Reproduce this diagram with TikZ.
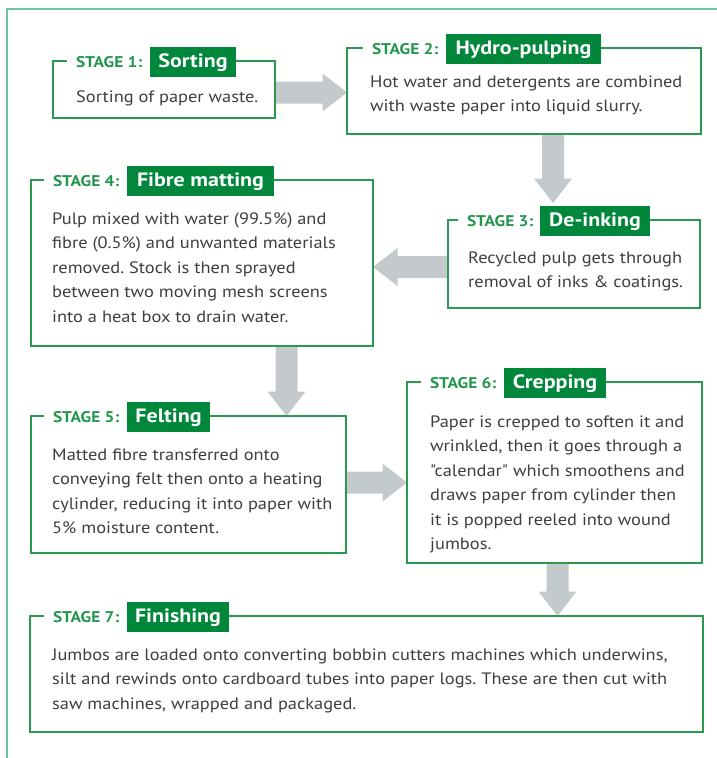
\documentclass[tikz,border=0pt]{standalone}
\usepackage{fontspec}
\setmainfont{PT Sans}
\newfontfamily\bodyfont[FakeStretch=1.115]{PT Sans}
\newfontfamily\stagefont[FakeStretch=1.12]{PT Sans}
\newfontfamily\titlefont[FakeStretch=1.14]{PT Sans}
\usetikzlibrary{calc,fit,backgrounds}
\frenchspacing
\definecolor{framegreen}{HTML}{6CC79A}
\definecolor{edgegreen}{HTML}{2A9A50}
\definecolor{fillgreen}{HTML}{00873C}
\definecolor{stagegreen}{HTML}{23964E}
\definecolor{arrowgray}{HTML}{C4C9CB}
\definecolor{bodygray}{HTML}{3E3E3E}
\tikzset{
  boxarea/.style={inner sep=0pt, outer sep=0pt},
  edge/.style={draw=edgegreen, line width=2pt},
  stage/.style={inner sep=0pt, outer sep=0pt, text=stagegreen, font=\stagefont\fontsize{15.5}{15.5}\selectfont\bfseries, anchor=base west},
  title/.style={fill=fillgreen, text=white, font=\titlefont\fontsize{19.3}{19.3}\selectfont\bfseries, inner xsep=0pt, inner ysep=0pt, text height=20pt, text depth=10pt, outer sep=0pt, anchor=base west, align=center},
  body/.style={inner sep=0pt, text=bodygray, font=\bodyfont\fontsize{16.5}{24.5}\selectfont\frenchspacing, align=left, anchor=base west},
  rarr/.style={to path={let \p1=(\tikztostart), \p2=(\tikztotarget) in
    (\x1,\y1+11pt) -- (\x2-24.5pt,\y1+11pt) -- (\x2-24.5pt,\y1+19pt) -- (\x2,\y1) -- (\x2-24.5pt,\y1-19pt) -- (\x2-24.5pt,\y1-11pt) -- (\x1,\y1-11pt) -- cycle}},
  larr/.style={to path={let \p1=(\tikztostart), \p2=(\tikztotarget) in
    (\x1,\y1+11pt) -- (\x2+24.5pt,\y1+11pt) -- (\x2+24.5pt,\y1+19pt) -- (\x2,\y1) -- (\x2+24.5pt,\y1-19pt) -- (\x2+24.5pt,\y1-11pt) -- (\x1,\y1-11pt) -- cycle}},
  darr/.style={to path={let \p1=(\tikztostart), \p2=(\tikztotarget) in
    (\x1+11pt,\y1) -- (\x1+11pt,\y2+24.5pt) -- (\x1+19pt,\y2+24.5pt) -- (\x1,\y2) -- (\x1-19pt,\y2+24.5pt) -- (\x1-11pt,\y2+24.5pt) -- (\x1-11pt,\y1) -- cycle}},
}
\begin{document}
\begin{tikzpicture}[x=1pt,y=-1pt]
\useasboundingbox (0,0) rectangle (717,758);
% outer frame
\draw[framegreen, line width=2pt] (7,760) -- (7,9) -- (719,9);

% box areas
\node[boxarea, fit={(53,61) (275,118)}] (b1) {};
\node[boxarea, fit={(347,48) (701,134)}] (b2) {};
\node[boxarea, fit={(448,220) (700,308)}] (b3) {};
\node[boxarea, fit={(31,180) (373,346)}] (b4) {};
\node[boxarea, fit={(31,416) (346,553)}] (b5) {};
\node[boxarea, fit={(407,382) (702,563)}] (b6) {};
\node[boxarea, fit={(30,616) (703,732)}] (b7) {};

% stage labels
\node[stage] (s1) at (76,67) {STAGE 1:};
\node[stage] (s2) at (372,54) {STAGE 2:};
\node[stage] (s3) at (467,226) {STAGE 3:};
\node[stage] (s4) at (53,186) {STAGE 4:};
\node[stage] (s5) at (53,422) {STAGE 5:};
\node[stage] (s6) at (430,388) {STAGE 6:};
\node[stage] (s7) at (53,622) {STAGE 7:};

% titles
\node[title, minimum width=86pt] (t1) at (150,67) {Sorting};
\node[title, minimum width=155pt] (t2) at (446,54) {Hydro-pulping};
\node[title, minimum width=110pt] (t3) at (540,226) {De-inking};
\node[title, minimum width=147pt] (t4) at (127,186) {Fibre matting};
\node[title, minimum width=83pt] (t5) at (127,422) {Felting};
\node[title, minimum width=102pt] (t6) at (504,388) {Crepping};
\node[title, minimum width=102pt] (t7) at (127,622) {Finishing};

\begin{pgfonlayer}{background}
% arrows
\coordinate (a1) at ([yshift=-3pt]b1.east);
\fill[arrowgray] (a1) to[rarr] (a1 -| b2.west);
\coordinate (a2s) at (b2.south -| 553,0);
\coordinate (a2e) at ([yshift=3pt]t3.north -| 553,0);
\fill[arrowgray] (a2s) to[darr] (a2e);
\coordinate (a3) at ([yshift=-3pt]b3.west);
\fill[arrowgray] (a3) to[larr] (a3 -| b4.east);
\coordinate (a4s) at (b4.south -| 286.5,0);
\fill[arrowgray] (a4s) to[darr] (b5.north -| 286.5,0);
\coordinate (a5) at ([yshift=2pt]b5.east);
\fill[arrowgray] (a5) to[rarr] (a5 -| b6.west);
\coordinate (a6s) at (b6.south -| 557.5,0);
\fill[arrowgray] (a6s) to[darr] (b7.north -| 557.5,0);

% box outlines with gap for the stage label
\foreach \i in {1,...,7}{
  \draw[edge] ([xshift=-9pt]s\i.west |- b\i.north) -- (b\i.north west) -- (b\i.south west) -- (b\i.south east) -- (b\i.north east) -- (t\i.east |- b\i.north);
}
\end{pgfonlayer}

% body texts (base anchor = baseline of the last line)
\node[body] (p1) at (76,102) {Sorting of paper waste.};
\node[body] (p2) at (370,111.5) {Hot water and detergents are combined\\with waste paper into liquid slurry.};
\node[body] (p3) at (468,287.5) {Recycled pulp gets through\\removal of inks \& coatings.};
\node[body] (p4) at (52,322) {Pulp mixed with water (99.5\%) and\\fibre (0.5\%) and unwanted materials\\removed. Stock is then sprayed\\between two moving mesh screens\\into a heat box to drain water.};
\node[body] (p5) at (52,533.5) {Matted fibre transferred onto\\conveying felt then onto a heating\\cylinder, reducing it into paper with\\5\% moisture content.};
\node[body] (p6) at (430,549.5) {Paper is crepped to soften it and\\wrinkled, then it goes through a\\"calendar" which smoothens and\\draws paper from cylinder then\\it is popped reeled into wound\\jumbos.};
\node[body] (p7) at (52,709) {Jumbos are loaded onto converting bobbin cutters machines which underwins,\\silt and rewinds onto cardboard tubes into paper logs. These are then cut with\\saw machines, wrapped and packaged.};
\end{tikzpicture}
\end{document}
